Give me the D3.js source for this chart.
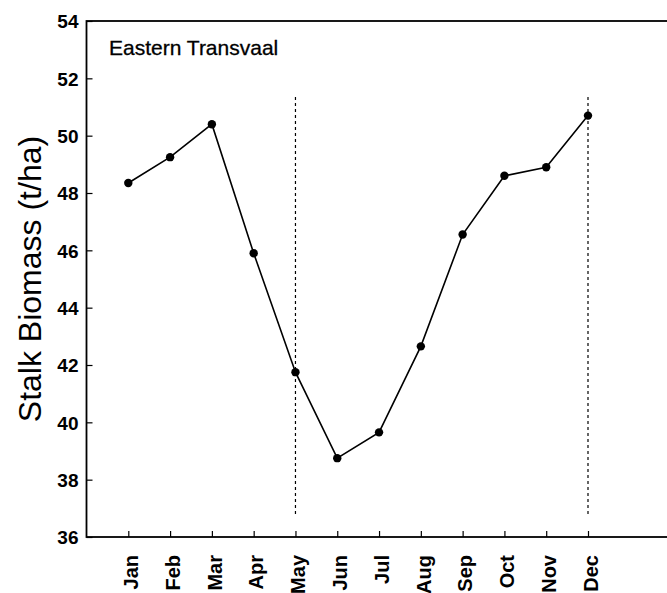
<!DOCTYPE html>
<html>
<head>
<meta charset="utf-8">
<script src="https://cdn.jsdelivr.net/npm/d3@7"></script>
<style>
  html, body { margin: 0; padding: 0; background: #fff; }
  svg { display: block; font-family: "Liberation Sans", Arial, Helvetica, sans-serif; }
  .axis path, .axis line { stroke: #000; }
  .tick-label { font-size: 19px; font-weight: bold; fill: #000; }
  .x-axis .tick-label { font-size: 20px; }
</style>
</head>
<body>
<div id="chart"></div>
<script>
const months = ['Jan', 'Feb', 'Mar', 'Apr', 'May', 'Jun', 'Jul', 'Aug', 'Sep', 'Oct', 'Nov', 'Dec'];
const biomass = [48.35, 49.25, 50.4, 45.9, 41.75, 38.75, 39.65, 42.65, 46.55, 48.6, 48.9, 50.7];
const yTicks = [36, 38, 40, 42, 44, 46, 48, 50, 52, 54];
const markerMonths = ['May', 'Dec'];
const markerRange = [36.8, 51.4];
const regionLabel = 'Eastern Transvaal';
const yLabel = 'Stalk Biomass (t/ha)';

const width = 667;
const height = 593;
const plotTop = 21, plotBottom = 537, plotLeft = 86.5;

const svg = d3.select('#chart')
  .append('svg')
  .attr('width', width)
  .attr('height', height);

const x = d3.scalePoint()
  .domain(months)
  .range([128.3, 588]);

const step = x.step();
const plotRight = x('Dec') + 2 * step;

const y = d3.scaleLinear()
  .domain([36, 54])
  .range([plotBottom, plotTop]);

// frame
svg.append('rect')
  .attr('x', plotLeft)
  .attr('y', plotTop)
  .attr('width', plotRight - plotLeft)
  .attr('height', plotBottom - plotTop)
  .attr('fill', 'none')
  .attr('stroke', '#000')
  .attr('stroke-width', 1.8);

// y axis, ticks pointing inward
const yAxis = svg.append('g')
  .attr('class', 'axis y-axis')
  .attr('transform', `translate(${plotLeft},0)`)
  .call(d3.axisRight(y).tickValues(yTicks).tickSize(6).tickFormat(''));
yAxis.select('.domain').remove();
yAxis.selectAll('.tick line').attr('stroke-width', 1.2);

yAxis.selectAll('.tick')
  .append('text')
  .attr('class', 'tick-label')
  .attr('x', -8)
  .attr('dy', '0.36em')
  .attr('text-anchor', 'end')
  .text(d => d);

// x axis, ticks pointing up
const xAxis = svg.append('g')
  .attr('class', 'axis x-axis')
  .attr('transform', `translate(0,${plotBottom})`)
  .call(d3.axisTop(x).tickSize(6).tickFormat(''));
xAxis.select('.domain').remove();
xAxis.selectAll('.tick line').attr('stroke-width', 1.2);

xAxis.selectAll('.tick')
  .append('text')
  .attr('class', 'tick-label')
  .attr('transform', 'rotate(-90)')
  .attr('x', -18)
  .attr('y', 2)
  .attr('dy', '0.36em')
  .attr('text-anchor', 'end')
  .text(d => d);

// dashed reference lines
svg.selectAll('.marker')
  .data(markerMonths)
  .enter()
  .append('line')
  .attr('class', 'marker')
  .attr('x1', d => x(d))
  .attr('x2', d => x(d))
  .attr('y1', y(markerRange[0]))
  .attr('y2', y(markerRange[1]))
  .attr('stroke', '#000')
  .attr('stroke-width', 1.2)
  .attr('stroke-dasharray', '3,3');

// series
const line = d3.line()
  .x((d, i) => x(months[i]))
  .y(d => y(d));

svg.append('path')
  .datum(biomass)
  .attr('d', line)
  .attr('fill', 'none')
  .attr('stroke', '#000')
  .attr('stroke-width', 1.6);

svg.selectAll('.dot')
  .data(biomass)
  .enter()
  .append('circle')
  .attr('class', 'dot')
  .attr('cx', (d, i) => x(months[i]))
  .attr('cy', d => y(d))
  .attr('r', 4.2)
  .attr('fill', '#000');

// labels
svg.append('text')
  .attr('x', 109)
  .attr('y', 55)
  .attr('font-size', 21)
  .attr('fill', '#000')
  .attr('stroke', '#000')
  .attr('stroke-width', 0.3)
  .text(regionLabel);

svg.append('text')
  .attr('transform', `translate(41,${(plotTop + plotBottom) / 2}) rotate(-90)`)
  .attr('text-anchor', 'middle')
  .attr('font-size', 32)
  .attr('fill', '#000')
  .text(yLabel);
</script>
</body>
</html>
